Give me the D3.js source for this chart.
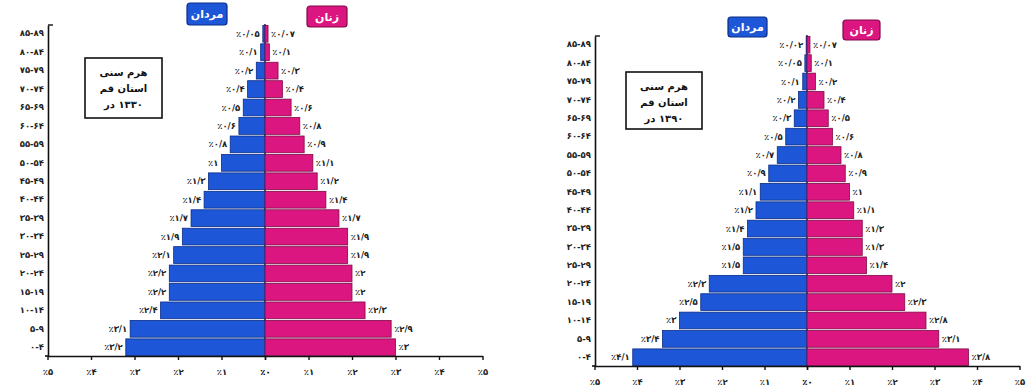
<!DOCTYPE html>
<html><head><meta charset="utf-8">
<script src="https://cdn.jsdelivr.net/npm/d3@7"></script>
<style>
html,body{margin:0;padding:0;background:#fff;}
svg{display:block;font-family:"DejaVu Sans",sans-serif;}
</style></head>
<body>
<svg id="c" width="1026" height="390"></svg>
<script>
// ---- data (age groups listed from youngest to oldest) ----
const ageGroups = ["۰-۴","۵-۹","۱۰-۱۴","۱۵-۱۹","۲۰-۲۴","۲۵-۲۹","۳۰-۳۴","۳۵-۳۹","۴۰-۴۴","۴۵-۴۹","۵۰-۵۴","۵۵-۵۹","۶۰-۶۴","۶۵-۶۹","۷۰-۷۴","۷۵-۷۹","۸۰-۸۴","۸۵-۸۹"];
const maleLeft   = [3.2, 3.1, 2.4, 2.2, 2.2, 2.1, 1.9, 1.7, 1.4, 1.3, 1.0, 0.8, 0.6, 0.5, 0.4, 0.2, 0.1, 0.05];
const femaleLeft = [3.0, 2.9, 2.3, 2.0, 2.0, 1.9, 1.9, 1.7, 1.4, 1.2, 1.1, 0.9, 0.8, 0.6, 0.4, 0.3, 0.1, 0.07];
const maleRight   = [4.1, 3.4, 3.0, 2.5, 2.3, 1.5, 1.5, 1.4, 1.2, 1.1, 0.9, 0.7, 0.5, 0.3, 0.2, 0.1, 0.05, 0.02];
const femaleRight = [3.8, 3.1, 2.8, 2.3, 2.0, 1.4, 1.3, 1.3, 1.1, 1.0, 0.9, 0.8, 0.6, 0.5, 0.4, 0.2, 0.1, 0.07];
const tickValues = [0, 1, 2, 3, 4, 5];
const maleLabel = "مردان";
const femaleLabel = "زنان";
const titleLeft  = ["هرم سنی", "استان قم", "۱۳۳۰ در"];
const titleRight = ["هرم سنی", "استان قم", "۱۳۹۰ در"];

// ---- helpers ----
const faDigits = "۰۱۲۳۴۵۶۷۸۹";
const fa = v => String(v).replace(/\d/g, d => faDigits[d]).replace(".", "/");
const pct = v => "٪" + fa(v);

const BLUE = "#1d56d6", BLUE_D = "#0b2c86";
const PINK = "#dc1680", PINK_D = "#7e0a47";

const svg = d3.select("#c");

function pyramid(cfg, male, female, title) {
  const g = svg.append("g");
  const y = d3.scaleBand().domain(ageGroups.slice().reverse())
      .range([cfg.top, cfg.bottom]).paddingInner(0.09).paddingOuter(0.02);
  const xL = d3.scaleLinear().domain([0, 5]).range([cfg.cx, cfg.cx - 5 * cfg.unit]);
  const xR = d3.scaleLinear().domain([0, 5]).range([cfg.cx, cfg.cx + 5 * cfg.unit]);

  // centre line
  g.append("line").attr("x1", cfg.cx).attr("x2", cfg.cx)
    .attr("y1", cfg.top - 1).attr("y2", cfg.bottom)
    .attr("stroke", "#333").attr("stroke-width", 1.6);

  const rows = ageGroups.map((a, i) => ({age: a, m: male[i], f: female[i]}));

  g.selectAll(".mb").data(rows).join("rect")
    .attr("x", d => xL(d.m)).attr("width", d => xL(0) - xL(d.m))
    .attr("y", d => y(d.age)).attr("height", y.bandwidth())
    .attr("fill", BLUE).attr("stroke", BLUE_D).attr("stroke-width", 0.8);
  g.selectAll(".fb").data(rows).join("rect")
    .attr("x", d => xR(0)).attr("width", d => xR(d.f) - xR(0))
    .attr("y", d => y(d.age)).attr("height", y.bandwidth())
    .attr("fill", PINK).attr("stroke", PINK_D).attr("stroke-width", 0.8);

  // value labels
  g.selectAll(".ml").data(rows).join("text")
    .attr("x", d => xL(d.m) - 3).attr("y", d => y(d.age) + y.bandwidth() / 2 + 3)
    .attr("text-anchor", "end").attr("font-size", 8.5).attr("font-weight", "bold")
    .attr("fill", "#222").text(d => pct(d.m));
  g.selectAll(".fl").data(rows).join("text")
    .attr("x", d => xR(d.f) + 3).attr("y", d => y(d.age) + y.bandwidth() / 2 + 3)
    .attr("text-anchor", "start").attr("font-size", 8.5).attr("font-weight", "bold")
    .attr("fill", "#222").text(d => pct(d.f));

  // x axes
  const axL = d3.axisBottom(xL).tickValues(tickValues).tickFormat(pct).tickSize(4).tickSizeOuter(0);
  const axR = d3.axisBottom(xR).tickValues(tickValues).tickFormat(pct).tickSize(4).tickSizeOuter(0);
  [axL, axR].forEach(ax => {
    const a = g.append("g").attr("transform", `translate(0,${cfg.bottom})`).call(ax);
    a.select(".domain").attr("stroke", "#111").attr("stroke-width", 1.6);
    a.selectAll(".tick line").attr("stroke", "#111").attr("stroke-width", 1.4);
    a.selectAll(".tick text").attr("font-size", 8.5).attr("font-weight", "bold")
      .attr("fill", "#222").attr("dy", "1.4em").attr("font-family", "DejaVu Sans");
  });

  // y axis
  const ay = g.append("g").attr("transform", `translate(${cfg.ax},0)`)
    .call(d3.axisLeft(y).tickSize(0).tickPadding(4));
  ay.select(".domain").attr("stroke", "#111").attr("stroke-width", 1.6);
  ay.selectAll(".tick text").attr("font-size", 8.5).attr("font-weight", "bold")
    .attr("fill", "#222").attr("font-family", "DejaVu Sans");
  g.append("line").attr("x1", cfg.ax).attr("x2", cfg.ax + 5)
    .attr("y1", cfg.top).attr("y2", cfg.top).attr("stroke", "#111").attr("stroke-width", 1.4);
  g.append("line").attr("x1", cfg.ax - 3).attr("x2", cfg.ax)
    .attr("y1", cfg.bottom).attr("y2", cfg.bottom).attr("stroke", "#111").attr("stroke-width", 1.6);

  // legend boxes
  [[cfg.mBox, BLUE, BLUE_D, maleLabel], [cfg.fBox, PINK, PINK_D, femaleLabel]].forEach(([b, c, cd, t]) => {
    g.append("rect").attr("x", b[0]).attr("y", b[1]).attr("width", b[2]).attr("height", b[3])
      .attr("rx", 3).attr("fill", c).attr("stroke", cd).attr("stroke-width", 1.2);
    g.append("text").attr("x", b[0] + b[2] / 2).attr("y", b[1] + b[3] / 2 + 4)
      .attr("text-anchor", "middle").attr("font-size", 11).attr("font-weight", "bold")
      .attr("fill", "#fff").attr("direction", "rtl").text(t);
  });

  // title box
  const tb = cfg.tBox;
  g.append("rect").attr("x", tb[0]).attr("y", tb[1]).attr("width", tb[2]).attr("height", tb[3])
    .attr("fill", "#fff").attr("stroke", "#111").attr("stroke-width", 1.6);
  title.forEach((t, i) => {
    g.append("text").attr("x", tb[0] + tb[2] / 2).attr("y", tb[1] + 18 + i * 16)
      .attr("text-anchor", "middle").attr("font-size", 10).attr("font-weight", "bold")
      .attr("fill", "#111").attr("direction", "rtl").text(t);
  });
}

pyramid({cx: 265, unit: 43.5, top: 25, bottom: 356, ax: 48,
         mBox: [187, 3, 40, 22], fBox: [307, 6, 40, 21], tBox: [85, 58, 77, 60]},
        maleLeft, femaleLeft, titleLeft);
pyramid({cx: 807, unit: 42.5, top: 36, bottom: 366, ax: 595,
         mBox: [728, 17, 39, 20], fBox: [843, 20, 37, 20], tBox: [626, 72, 76, 57]},
        maleRight, femaleRight, titleRight);
</script>
</body></html>
